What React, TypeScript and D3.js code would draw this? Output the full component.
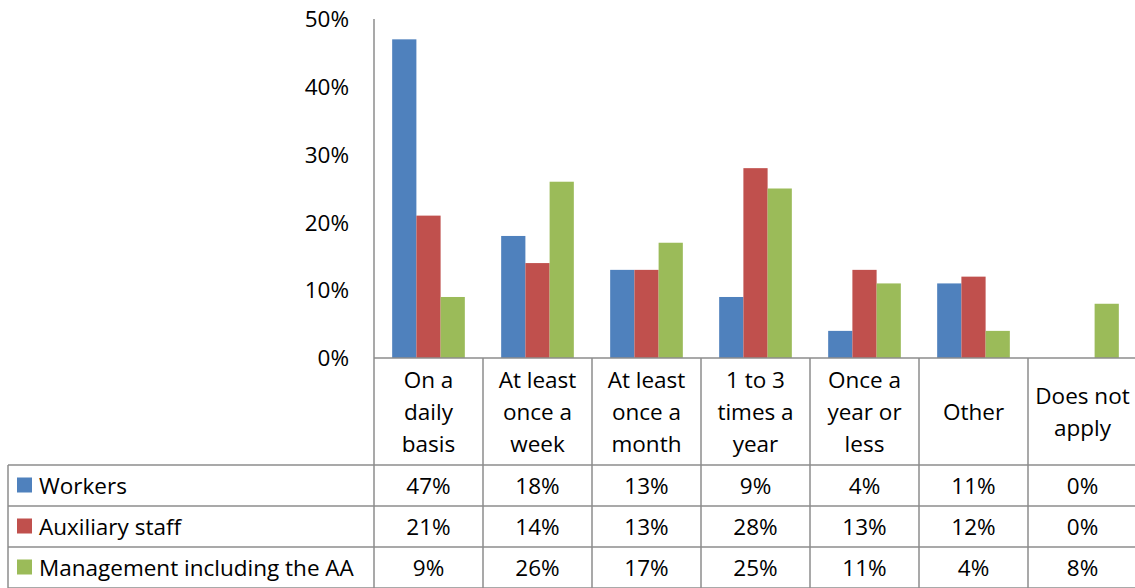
// @ts-nocheck
import * as d3 from "d3"
import * as React from "react"

const categories = [
  "On a daily basis",
  "At least once a week",
  "At least once a month",
  "1 to 3 times a year",
  "Once a year or less",
  "Other",
  "Does not apply",
]
const categoryLines = [
  ["On a", "daily", "basis"],
  ["At least", "once a", "week"],
  ["At least", "once a", "month"],
  ["1 to 3", "times a", "year"],
  ["Once a", "year or", "less"],
  ["Other"],
  ["Does not", "apply"],
]
const seriesNames = ["Workers", "Auxiliary staff", "Management including the AA"]
const workers = [47, 18, 13, 9, 4, 11, 0]
const auxiliary = [21, 14, 13, 28, 13, 12, 0]
const management = [9, 26, 17, 25, 11, 4, 8]
const yTicks = [0, 10, 20, 30, 40, 50]
const colors = ["#4F81BD", "#C0504D", "#9BBB59"]

const W = 1135
const H = 588
const FONT = "'Open Sans', Lato, sans-serif"
const FS = 22.5

export default function App() {
  const series = [workers, auxiliary, management]
  const left = 374
  const right = 1137
  const top = 19
  const zero = 358
  const rowTops = [465, 506, 547, 588]
  const tableLeft = 8

  const x = d3.scaleBand().domain(categories).range([left, right])
  const inner = d3.scaleBand().domain(d3.range(3)).range([0, x.bandwidth()]).paddingOuter(0.75).paddingInner(0)
  const y = d3.scaleLinear().domain([0, 50]).range([zero, top])
  const line = "#8c8c8c"

  return (
    <svg width={W} height={H} style={{ position: "absolute", left: 0, top: 0, background: "#fff" }} fontFamily={FONT}>
      {/* y axis labels */}
      {yTicks.map(t => (
        <text key={t} x={349} y={y(t)} dy="0.36em" textAnchor="end" fontSize={FS} fill="#000">{t}%</text>
      ))}
      {/* bars */}
      {series.map((vals, s) => vals.map((v, i) => (
        <rect key={s + "-" + i}
          x={x(categories[i]) + inner(s)}
          y={y(v)}
          width={inner.bandwidth()}
          height={zero - y(v)}
          fill={colors[s]} />
      )))}
      {/* axes */}
      <line x1={left} x2={left} y1={top} y2={H} stroke={line} strokeWidth={1.5} />
      <line x1={left} x2={right} y1={zero} y2={zero} stroke={line} strokeWidth={1.5} />
      {/* table grid */}
      {categories.slice(1).map(c => (
        <line key={c} x1={x(c)} x2={x(c)} y1={zero} y2={H} stroke={line} strokeWidth={1.5} />
      ))}
      {rowTops.map(r => (
        <line key={r} x1={tableLeft} x2={right} y1={r} y2={r} stroke={line} strokeWidth={1.5} />
      ))}
      <line x1={tableLeft} x2={tableLeft} y1={rowTops[0]} y2={H} stroke={line} strokeWidth={1.5} />
      {/* category headers */}
      {categoryLines.map((lines, i) => {
        const cx = x(categories[i]) + x.bandwidth() / 2
        const mid = (zero + rowTops[0]) / 2
        const lh = 32
        const start = mid - ((lines.length - 1) * lh) / 2
        return lines.map((l, j) => (
          <text key={i + "-" + j} x={cx} y={start + j * lh} dy="0.36em" textAnchor="middle" fontSize={FS} fill="#000">{l}</text>
        ))
      })}
      {/* rows */}
      {series.map((vals, s) => {
        const cy = (rowTops[s] + rowTops[s + 1]) / 2
        return (
          <g key={s}>
            <rect x={17} y={cy - 8} width={15} height={15} fill={colors[s]} />
            <text x={39} y={cy} dy="0.36em" fontSize={FS} fill="#000">{seriesNames[s]}</text>
            {vals.map((v, i) => (
              <text key={i} x={x(categories[i]) + x.bandwidth() / 2} y={cy} dy="0.36em" textAnchor="middle" fontSize={FS} fill="#000">{v}%</text>
            ))}
          </g>
        )
      })}
    </svg>
  )
}
